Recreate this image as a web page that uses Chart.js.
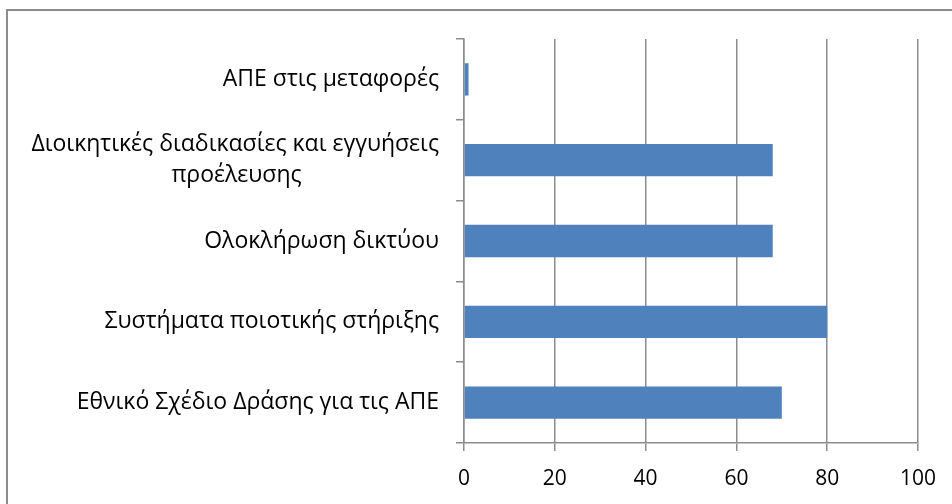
<!DOCTYPE html>
<html>
<head>
<meta charset="utf-8">
<script src="https://cdn.jsdelivr.net/npm/chart.js@4.4.1/dist/chart.umd.min.js"></script>
<style>
  html, body { margin: 0; padding: 0; background: #fff; overflow: hidden; }
  #wrap { position: relative; width: 952px; height: 504px; }
  #frame {
    position: absolute; left: 6px; top: 9px; width: 1000px; height: 1000px;
    border-left: 2px solid #8c8c8c; border-top: 2px solid #8c8c8c;
    pointer-events: none;
  }
</style>
</head>
<body>
<div id="wrap">
  <canvas id="chart" width="952" height="504"></canvas>
  <div id="frame"></div>
</div>
<script>
// categories, top to bottom as drawn
const categories = [
  ['ΑΠΕ στις μεταφορές'],
  ['Διοικητικές διαδικασίες και εγγυήσεις', 'προέλευσης'],
  ['Ολοκλήρωση δικτύου'],
  ['Συστήματα ποιοτικής στήριξης'],
  ['Εθνικό Σχέδιο Δράσης για τις ΑΠΕ']
];
const values = [1, 68, 68, 80, 70];
const xTicks = [0, 20, 40, 60, 80, 100];

const FONT_FAMILY = '"Open Sans", sans-serif';
const LABEL_SIZE = 23;
const TICK_SIZE = 21;

// pad shorter lines with trailing spaces so a right-aligned block looks centred
function centerLines(lines) {
  if (lines.length < 2) return lines[0];
  const ctx = document.createElement('canvas').getContext('2d');
  ctx.font = LABEL_SIZE + 'px ' + FONT_FAMILY;
  const widest = Math.max(...lines.map(l => ctx.measureText(l).width));
  const sp = ctx.measureText(' ').width;
  return lines.map(l => {
    const n = Math.round((widest - ctx.measureText(l).width) / 2 / sp);
    return l + ' '.repeat(n);
  });
}

const labels = categories.map(centerLines);

new Chart(document.getElementById('chart'), {
  type: 'bar',
  data: {
    labels: labels,
    datasets: [{
      data: values,
      backgroundColor: '#4F81BD',
      barPercentage: 0.4,
      categoryPercentage: 1
    }]
  },
  options: {
    indexAxis: 'y',
    responsive: false,
    animation: false,
    layout: { padding: { left: 0, top: 39, right: 34, bottom: 0 } },
    plugins: { legend: { display: false }, tooltip: { enabled: false } },
    scales: {
      x: {
        min: 0,
        max: 100,
        afterBuildTicks: (scale) => { scale.ticks = xTicks.map(v => ({ value: v })); },
        afterFit: (scale) => { scale.height = 61; },
        grid: { color: '#8c8c8c', lineWidth: 1.5, tickLength: 8 },
        border: { color: '#8c8c8c', width: 1.5 },
        ticks: {
          color: '#000',
          padding: 15,
          font: { family: FONT_FAMILY, size: TICK_SIZE }
        }
      },
      y: {
        afterFit: (scale) => { scale.width = 464; },
        grid: { drawOnChartArea: false, color: '#8c8c8c', lineWidth: 1.5, tickLength: 8 },
        border: { color: '#8c8c8c', width: 1.5 },
        ticks: {
          color: '#000',
          padding: 17,
          font: { family: FONT_FAMILY, size: LABEL_SIZE, lineHeight: 1.35 }
        }
      }
    }
  }
});
</script>
</body>
</html>
